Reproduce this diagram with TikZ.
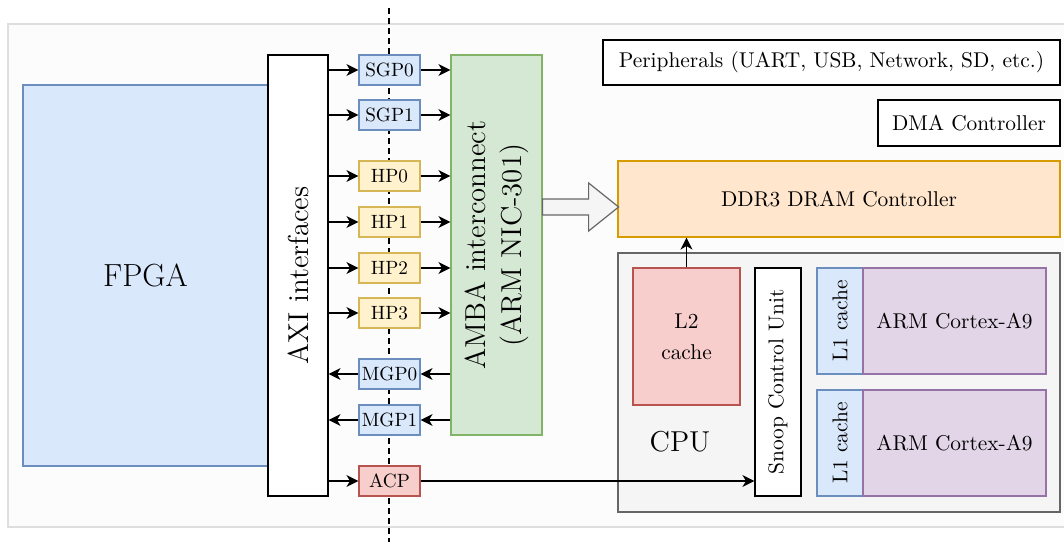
\documentclass[tikz,border=0pt]{standalone}
\usepackage{xcolor}
\usetikzlibrary{arrows.meta}

\definecolor{bluefill}{HTML}{DAE8FC}
\definecolor{bluedraw}{HTML}{6C8EBF}
\definecolor{yellowfill}{HTML}{FFF2CC}
\definecolor{yellowdraw}{HTML}{D6B656}
\definecolor{greenfill}{HTML}{D5E8D4}
\definecolor{greendraw}{HTML}{82B366}
\definecolor{orangefill}{HTML}{FFE6CC}
\definecolor{orangedraw}{HTML}{D79B00}
\definecolor{redfill}{HTML}{F8CECC}
\definecolor{reddraw}{HTML}{B85450}
\definecolor{purplefill}{HTML}{E1D5E7}
\definecolor{purpledraw}{HTML}{9673A6}
\definecolor{grayfill}{HTML}{F5F5F5}
\definecolor{graydraw}{HTML}{666666}

\begin{document}
\begin{tikzpicture}[
		x=0.5pt, y=-0.5pt,
		line width=0.6pt,
		font=\fontsize{10.7}{12.8}\selectfont,
		box/.style={draw, rectangle, inner sep=0pt, align=center},
		sz/.style 2 args={minimum width=#1*0.5pt, minimum height=#2*0.5pt},
		port/.style={box, sz={61}{30}, font=\fontsize{9.6}{11.5}\selectfont},
		bluebox/.style={fill=bluefill, draw=bluedraw},
		yellowbox/.style={fill=yellowfill, draw=yellowdraw},
		arr/.style={-{Stealth[length=6pt, width=6pt, inset=1.8pt]}}
	]
	\useasboundingbox (0,0) rectangle (1064,541);
	\clip (0,0) rectangle (1064,541);

	% background
	\draw[fill=black!1, draw=black!13] (8,24) rectangle (1080,527);
	\coordinate (cuttop) at (389,8);
	\coordinate (cutbot) at (389,545);
	\draw[dash pattern=on 3pt off 2pt] (cuttop) -- (cutbot);

	% programmable logic side
	\node[box, bluebox, sz={245}{381}, font=\fontsize{16}{19}\selectfont] (fpga) at (145.5,275.5) {FPGA};
	\node[box, fill=white, sz={60}{441}] (axi) at (298,275.5) {};
	\node[rotate=90, font=\Large] at (axi) {AXI interfaces};

	% ports
	\node[port, bluebox] (sgp0) at (389.5,70) {SGP0};
	\node[port, bluebox] (sgp1) at (389.5,115) {SGP1};
	\node[port, yellowbox] (hp0) at (389.5,176) {HP0};
	\node[port, yellowbox] (hp1) at (389.5,222) {HP1};
	\node[port, yellowbox] (hp2) at (389.5,268) {HP2};
	\node[port, yellowbox] (hp3) at (389.5,313) {HP3};
	\node[port, bluebox] (mgp0) at (389.5,374) {MGP0};
	\node[port, bluebox] (mgp1) at (389.5,420) {MGP1};
	\node[port, fill=redfill, draw=reddraw] (acp) at (389.5,481) {ACP};

	\node[box, fill=greenfill, draw=greendraw, sz={91}{380}] (amba) at (496.5,245) {};
	\node[rotate=90, font=\Large, align=center] at (amba) {AMBA interconnect\\(ARM NIC-301)};

	\foreach \p in {sgp0,sgp1,hp0,hp1,hp2,hp3} {
		\draw[arr] (axi.east |- \p) -- (\p);
		\draw[arr] (\p) -- (amba.west |- \p);
	}
	\foreach \p in {mgp0,mgp1} {
		\draw[arr] (amba.west |- \p) -- (\p);
		\draw[arr] (\p) -- (axi.east |- \p);
	}
	\draw[arr] (axi.east |- acp) -- (acp);

	% processing system side
	\node[box, fill=white, sz={457}{45}] (periph) at (831.5,62.5) {Peripherals (UART, USB, Network, SD, etc.)};
	\node[box, fill=white, sz={182}{46}] (dma) at (969,123) {DMA Controller};
	\node[box, fill=orangefill, draw=orangedraw, sz={442}{76}] (ddr) at (839,199) {DDR3 DRAM Controller};

	\coordinate (ba) at (amba.east |- 0,207);
	\draw[fill=grayfill, draw=graydraw] (ba) ++(0,-8) -- ++(46,0) -- ++(0,-16) -- ++(30,24)
		-- ++(-30,24) -- ++(0,-16) -- ++(-46,0) -- cycle;

	\node[box, fill=grayfill, draw=graydraw, sz={442}{259}] (cpu) at (839,382.5) {};
	\node[font=\Large] (cpulabel) at (680,442) {CPU};
	\node[box, fill=redfill, draw=reddraw, sz={107}{137}] (l2) at (686.5,336.5) {L2\\[2.7pt]cache};
	\node[box, fill=white, sz={46}{228}] (scu) at (778,382) {};
	\node[rotate=90] at (scu) {Snoop Control Unit};

	\node[box, bluebox, sz={46}{106}] (l1a) at (840,321) {};
	\node[rotate=90] at (l1a) {L1 cache};
	\node[box, fill=purplefill, draw=purpledraw, sz={183}{106}] (arma) at (954.5,321) {ARM Cortex-A9};
	\node[box, bluebox, sz={46}{106}] (l1b) at (840,443) {};
	\node[rotate=90] at (l1b) {L1 cache};
	\node[box, fill=purplefill, draw=purpledraw, sz={183}{106}] (armb) at (954.5,443) {ARM Cortex-A9};

	\draw[arr] (l2.north) -- (l2.north |- ddr.south);
	\draw[arr] (acp.east) -- (acp -| scu.west);
\end{tikzpicture}
\end{document}
